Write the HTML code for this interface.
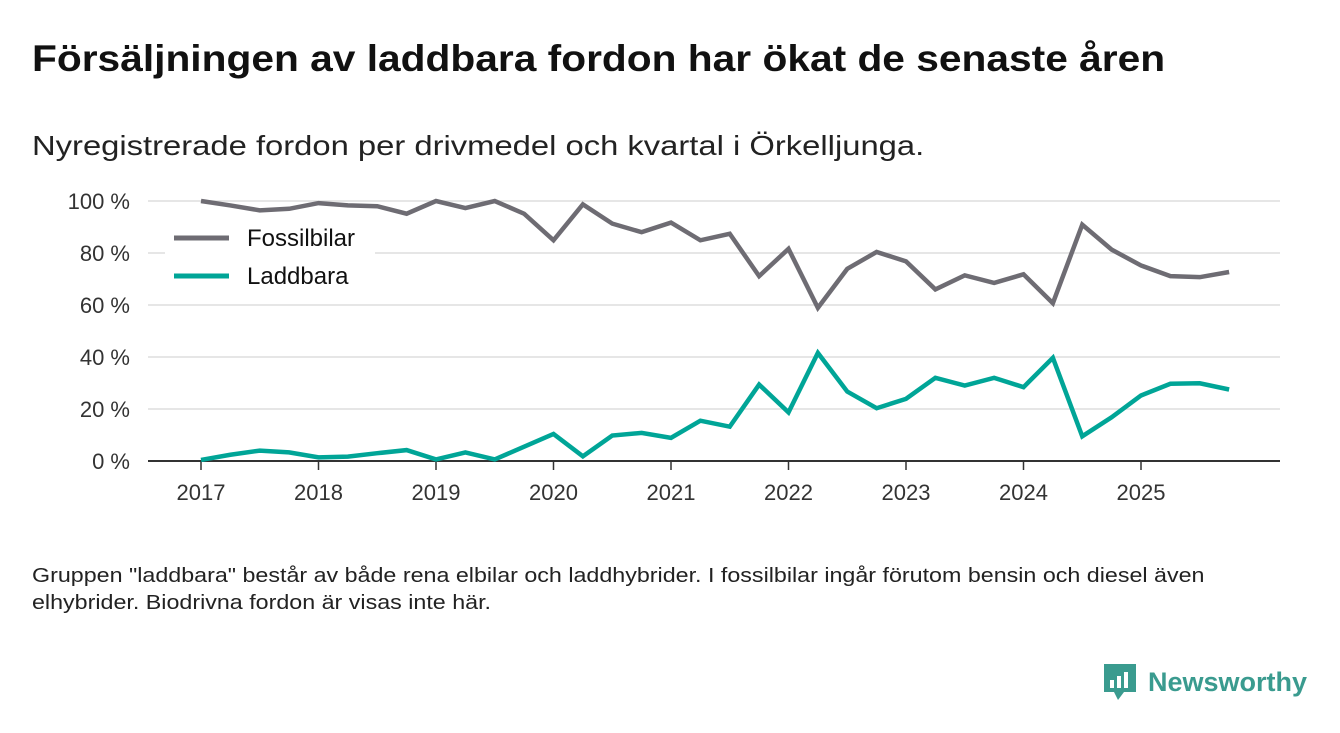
<!DOCTYPE html>
<html><head><meta charset="utf-8"><style>
body{margin:0;background:#fff;width:1340px;height:733px;overflow:hidden;font-family:"Liberation Sans",sans-serif;color:#111}
.t{position:absolute;left:32px;top:38px;font-size:37px;font-weight:bold;color:#111;transform-origin:0 0;transform:scaleX(1.1);white-space:nowrap}
.s{position:absolute;left:32px;top:130px;font-size:28px;color:#222;transform-origin:0 0;transform:scaleX(1.17);white-space:nowrap}
.f{position:absolute;left:32px;top:563px;font-size:20px;line-height:27px;color:#222;transform-origin:0 0;transform:scaleX(1.163);white-space:nowrap}
.logo{position:absolute;left:1102px;top:662px;display:flex;align-items:center;font-size:27px;font-weight:bold;color:#3a9b8f}
</style></head><body>
<div class="t">Försäljningen av laddbara fordon har ökat de senaste åren</div>
<div class="s">Nyregistrerade fordon per drivmedel och kvartal i Örkelljunga.</div>
<svg id="c" width="1340" height="733" style="position:absolute;left:0;top:0"></svg>
<div class="f">Gruppen "laddbara" består av både rena elbilar och laddhybrider. I fossilbilar ingår förutom bensin och diesel även<br>elhybrider. Biodrivna fordon är visas inte här.</div>
<div class="logo"><svg width="36" height="40" style="margin-right:10px"><path d="M2 2h32v28H22l-6 8-4-8H2z" fill="#3a9b8f"/><rect x="8" y="18" width="4" height="8" fill="#fff"/><rect x="15" y="14" width="4" height="12" fill="#fff"/><rect x="22" y="10" width="4" height="16" fill="#fff"/></svg>Newsworthy</div>
<script>
const years=["2017","2018","2019","2020","2021","2022","2023","2024","2025"];
const yTicks=[0,20,40,60,80,100];
const fossil=[100,98.3,96.4,97,99.2,98.3,98,95.1,100,97.3,100,95.1,84.9,98.7,91.3,88,91.7,84.9,87.4,71.1,81.6,58.9,73.9,80.4,76.8,66,71.4,68.5,71.8,60.7,90.9,81.3,75.2,71.1,70.7,72.7];
const laddbara=[0.4,2.4,4,3.3,1.4,1.7,3,4.2,0.6,3.3,0.6,5.5,10.4,1.8,9.8,10.8,8.9,15.5,13.2,29.4,18.7,41.6,26.7,20.3,23.9,32,29,32,28.4,39.7,9.5,16.8,25.2,29.7,29.9,27.5];
const svg=document.getElementById('c');const NS='http://www.w3.org/2000/svg';
const x=i=>201+i*117.5/4, y=v=>461-v*2.6;
function el(t,a,txt){const e=document.createElementNS(NS,t);for(const k in a)e.setAttribute(k,a[k]);if(txt!==undefined)e.textContent=txt;svg.appendChild(e);return e;}
yTicks.forEach(v=>{
 if(v>0){const g=el('line',{x1:148,x2:1280,y1:y(v),y2:y(v),stroke:'#ddd','stroke-width':1.5});
 
 }
 const t=el('text',{x:130,y:y(v)+8,'text-anchor':'end','font-size':22,fill:'#333','font-family':'Liberation Sans'},v+' %');
 
 
});
years.forEach((yr,i)=>{const xx=x(i*4);
 const tk=el('line',{x1:xx,x2:xx,y1:461,y2:470,stroke:'#333','stroke-width':1.5});
 
 
 const t=el('text',{x:xx,y:500,'text-anchor':'middle','font-size':22,fill:'#333','font-family':'Liberation Sans'},yr);
 
 
});
const ax=el('line',{x1:148,x2:1280,y1:461,y2:461,stroke:'#333','stroke-width':2});


const lb=el('rect',{x:165,y:222,width:210,height:72,fill:'#fff'});


function series(d,c,n){const p=el('polyline',{points:d.map((v,i)=>x(i)+','+y(v)).join(' '),fill:'none',stroke:c,'stroke-width':4.5,'stroke-linejoin':'miter'});
 
 }
series(fossil,'#6e6c73','fossilbilar-line');
series(laddbara,'#00a597','laddbara-line');
[['Fossilbilar','#6e6c73',238],['Laddbara','#00a597',276]].forEach(([n,c,yy])=>{
 const l=el('line',{x1:174,x2:229,y1:yy,y2:yy,stroke:c,'stroke-width':5});
 
 
 const t=el('text',{x:247,y:yy+8,'font-size':24,fill:'#111','font-family':'Liberation Sans'},n);
 
 
});
</script>
</body></html>
